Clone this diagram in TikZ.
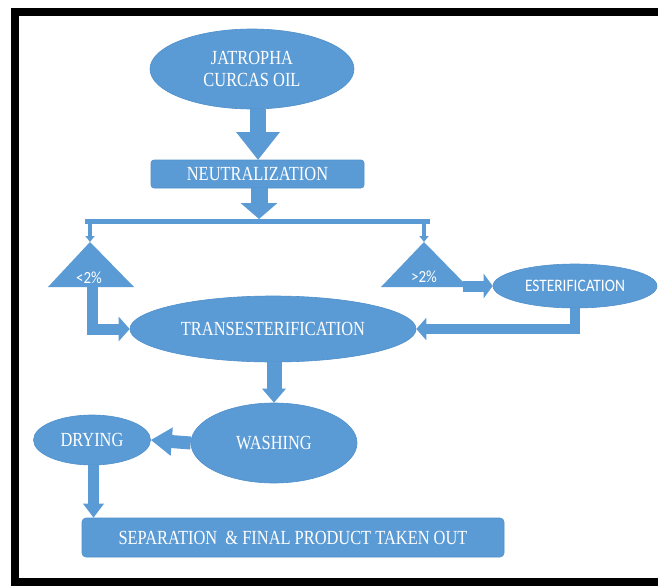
\documentclass[tikz,border=0pt]{standalone}
\usepackage{fontspec}
\setmainfont{Liberation Serif}
\newfontfamily\condserif[FakeStretch=0.82]{Liberation Serif}
\newfontfamily\condsans[FakeStretch=0.88]{Carlito}
\usetikzlibrary{arrows.meta,shapes.geometric}
\definecolor{boxblue}{HTML}{5B9BD5}
\definecolor{edgeblue}{HTML}{4F8FCB}
\begin{document}
\begin{tikzpicture}[x=1pt,y=-1pt,
  shapebase/.style={fill=boxblue, draw=edgeblue, line width=0.6pt, text=white, inner sep=0pt, align=center},
  oval/.style={shapebase, ellipse},
  stepbox/.style={shapebase, rectangle, rounded corners=3pt},
  serifl/.style={font=\condserif\fontsize{20}{22}\selectfont},
  sansl/.style={font=\condsans\fontsize{17.5}{20}\selectfont},
  pctl/.style={text=white, inner sep=0pt, font=\condsans\fontsize{17}{18}\selectfont},
  blk/.style n args={3}{draw=boxblue, line width=#1, line join=miter, -{Triangle[width=#2,length=#3]}},
  frameline/.style={draw=black, line width=8pt, line join=miter}]
\useasboundingbox (0,0) rectangle (658,586);
\fill[white] (0,0) rectangle (658,586);
\draw[frameline] (658,12) -- (15,12) -- (15,582) -- (658,582);

% nodes
\node[oval, serifl, minimum width=204pt, minimum height=80pt] (jat) at (252,69) {JATROPHA\\CURCAS OIL};
\node[stepbox, serifl, minimum width=213pt, minimum height=28pt] (neut) at (257.5,174) {NEUTRALIZATION};
\node[oval, serifl, minimum width=286pt, minimum height=66pt] (trans) at (273,329) {TRANSESTERIFICATION};
\node[oval, sansl, minimum width=164pt, minimum height=44pt] (est) at (575,286) {ESTERIFICATION};
\node[oval, serifl, minimum width=166pt, minimum height=80pt] (wash) at (274,443) {WASHING};
\node[oval, serifl, minimum width=117pt, minimum height=50pt] (dry) at (92,440) {DRYING};
\node[stepbox, serifl, rounded corners=4pt, minimum width=422pt, minimum height=39pt] (sep) at (293,537.5) {SEPARATION \ \& FINAL PRODUCT TAKEN OUT};

% triangles
\coordinate (ltapex) at (90,242);
\coordinate (rtapex) at (424,242);
\fill[boxblue] (ltapex) -- (48,287) -- (134,287) -- cycle;
\fill[boxblue] (rtapex) -- (381,287) -- (468,287) -- cycle;
\node[pctl] (lt) at (89,277.5) {<2\%};
\node[pctl] (rt) at (424,277) {>2\%};

% split bar
\coordinate (barL) at (85,221.5);
\coordinate (barR) at (430,221.5);
\coordinate (barmid) at (259,219);
\draw[boxblue, line width=5pt] (barL) -- (barR);

% connectors
\draw[blk={16pt}{42pt}{28pt}] (258,109) -- (258,160);
\draw[blk={17pt}{36pt}{16pt}] (neut.south -| barmid) -- (barmid);
\draw[blk={4pt}{9pt}{6pt}] (90,224) -- (ltapex);
\draw[blk={4pt}{9pt}{6pt}] (424,224) -- (rtapex);
\coordinate (ltbase) at (92,286);
\draw[blk={11pt}{24pt}{11pt}] (ltbase) |- (trans.west);
\draw[blk={10pt}{22pt}{10pt}] (est.south) |- (trans.east);
\coordinate (rtcorner) at (463,286);
\draw[blk={11pt}{24pt}{9pt}] (rtcorner) -- (est.west);
\draw[blk={15pt}{23pt}{14pt}] (trans.south -| wash.north) -- (wash.north);
\draw[blk={13pt}{27pt}{21pt}] (wash.west) -- (dry.east);
\draw[blk={11pt}{20pt}{14pt}] (dry.south -| 93.5,0) -- (sep.north -| 93.5,0);
\end{tikzpicture}
\end{document}
